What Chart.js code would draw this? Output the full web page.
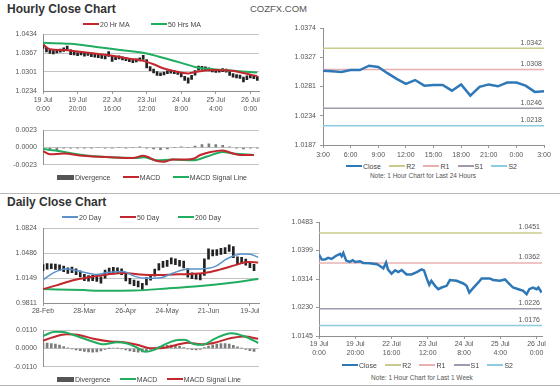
<!DOCTYPE html>
<html>
<head>
<meta charset="utf-8">
<title>COZFX close charts</title>
<script src="https://cdn.jsdelivr.net/npm/chart.js@4.4.1/dist/chart.umd.min.js"></script>
<style>
  body { margin: 0; background: #fff; font-family: 'Liberation Sans', Arial, sans-serif; }
  #page { position: relative; width: 560px; height: 386px; overflow: hidden; }
  canvas, .txt, .legend, .rule { position: absolute; }
  .txt { line-height: 1; white-space: nowrap; }
  .head { font-size: 12px; font-weight: bold; color: #333; }
  .brand { font-size: 9.5px; color: #555; }
  .note { font-size: 6.5px; color: #555; text-align: center; width: 200px; }
  .rule { left: 0; width: 560px; height: 1px; background: #b8b8b8; }
  .legend { display: flex; align-items: center; justify-content: space-between; font-size: 7px; color: #444; white-space: nowrap; height: 10px; }
  .legend span { display: flex; align-items: center; }
  .legend i { display: inline-block; margin-right: 1px; }
</style>
</head>
<body>
<div id="page">
  <div class="txt head" style="left:7px;top:3px">Hourly Close Chart</div>
  <div class="txt brand" style="left:250px;top:4px">COZFX.COM</div>
  <div class="rule" style="top:193px"></div>
  <div class="txt head" style="left:7px;top:196px">Daily Close Chart</div>
  <div class="rule" style="top:385px"></div>

  <canvas id="hourPrice" width="270" height="91" style="left:0;top:24px"></canvas>
  <canvas id="hourMacd" width="270" height="55" style="left:0;top:120px"></canvas>
  <canvas id="dayPrice" width="270" height="98" style="left:0;top:218px"></canvas>
  <canvas id="dayMacd" width="270" height="57" style="left:0;top:320px"></canvas>
  <canvas id="last24" width="285" height="140" style="left:272px;top:20px"></canvas>
  <canvas id="lastWeek" width="285" height="143" style="left:272px;top:215px"></canvas>

  <div class="txt note" style="left:323px;top:173px">Note: 1 Hour Chart for Last 24 Hours</div>
  <div class="txt note" style="left:322px;top:375px">Note: 1 Hour Chart for Last 1 Week</div>
</div>

<script>
// ---------- hourly close chart (x = hours since 19 Jul 0:00, weekend skipped) ----------
const hourTicks = [0, 20, 40, 60, 80, 100, 120];
const hourTickLabels = [['19 Jul', '0:00'], ['19 Jul', '20:00'], ['22 Jul', '16:00'], ['23 Jul', '12:00'],
                        ['24 Jul', '8:00'], ['25 Jul', '4:00'], ['26 Jul', '0:00']];
const hourPriceTicks = [1.0234, 1.0301, 1.0367, 1.0434];

// candle ranges, one every 2 hours
const hourLow = [1.0384, 1.0372, 1.0366, 1.0365, 1.0368, 1.0371, 1.0373, 1.0378, 1.0362, 1.0361,
                 1.0358, 1.0361, 1.0357, 1.0359, 1.0355, 1.0353, 1.0351, 1.0349, 1.0347, 1.0356,
                 1.0338, 1.0344, 1.0347, 1.0343, 1.0341, 1.0337, 1.0334, 1.0336, 1.0340, 1.0345,
                 1.0315, 1.0306, 1.0298, 1.0289, 1.0288, 1.0291, 1.0295, 1.0297, 1.0295, 1.0292,
                 1.0284, 1.0271, 1.0262, 1.0275, 1.0290, 1.0307, 1.0310, 1.0308, 1.0305, 1.0301,
                 1.0299, 1.0300, 1.0302, 1.0300, 1.0289, 1.0283, 1.0280, 1.0278, 1.0266, 1.0274,
                 1.0280, 1.0277, 1.0271];
const hourHigh = [1.0400, 1.0388, 1.0378, 1.0376, 1.0379, 1.0382, 1.0386, 1.0392, 1.0379, 1.0371,
                  1.0369, 1.0371, 1.0368, 1.0369, 1.0366, 1.0364, 1.0362, 1.0360, 1.0358, 1.0373,
                  1.0356, 1.0355, 1.0358, 1.0354, 1.0352, 1.0349, 1.0345, 1.0347, 1.0351, 1.0360,
                  1.0345, 1.0320, 1.0311, 1.0302, 1.0298, 1.0301, 1.0305, 1.0308, 1.0306, 1.0303,
                  1.0297, 1.0286, 1.0280, 1.0289, 1.0306, 1.0322, 1.0321, 1.0319, 1.0316, 1.0311,
                  1.0309, 1.0310, 1.0313, 1.0311, 1.0303, 1.0295, 1.0292, 1.0290, 1.0283, 1.0287,
                  1.0292, 1.0289, 1.0285];

const ma20Hours = [0, 4, 12, 20, 30, 40, 50, 58, 64, 70, 76, 84, 90, 100, 108, 114, 124];
const ma20Values = [1.0398, 1.0381, 1.0378, 1.0373, 1.0366, 1.0358, 1.0348, 1.0340, 1.0328, 1.0313,
                    1.0304, 1.0296, 1.0303, 1.0308, 1.0306, 1.0300, 1.0286];
const ma50Hours = [0, 12, 16, 30, 50, 60, 70, 80, 90, 100, 110, 124];
const ma50Values = [1.0404, 1.0401, 1.0400, 1.0390, 1.0375, 1.0366, 1.0350, 1.0333, 1.0316, 1.0310, 1.0305, 1.0299];

const hourMacdTicks = [-0.0023, 0, 0.0023];
const hourMacdHours = [0, 4, 12, 23, 39, 52, 58, 66, 70, 75, 83, 87, 91, 97, 104, 110, 114, 122];
const hourMacd = [-0.0005, -0.0009, -0.0008, -0.0011, -0.0013, -0.0014, -0.0011, -0.0018, -0.0019, -0.0016,
                  -0.0016, -0.0015, -0.0010, -0.0006, -0.0004, -0.0008, -0.0010, -0.0010];
const hourSignalHours = [0, 10, 23, 39, 54, 58, 66, 75, 87, 95, 104, 110, 122];
const hourSignal = [-0.0002, -0.0005, -0.0010, -0.0013, -0.0014, -0.0013, -0.0017, -0.0016, -0.0017, -0.0012,
                    -0.0006, -0.0008, -0.0010];
// divergence, one every 4 hours
const hourDivergence = [-0.0002, -0.0004, -0.0003, -0.0001, -0.0001, -0.0001, -0.0001, -0.0001, 0.0000, -0.0001,
                        -0.0001, 0.0000, -0.0001, 0.0000, 0.0001, -0.0001, -0.0002, -0.0003, -0.0002, 0.0000,
                        0.0001, 0.0000, 0.0002, 0.0004, 0.0005, 0.0004, 0.0003, 0.0001, -0.0001, -0.0002,
                        -0.0001, -0.0001];

// ---------- daily close chart (x = trading days since 28-Feb) ----------
const dayTicks = [0, 20, 40, 60, 80, 100];
const dayTickLabels = ['28-Feb', '28-Mar', '26-Apr', '24-May', '21-Jun', '19-Jul'];
const dayPriceTicks = [0.9811, 1.0149, 1.0486, 1.0824];

// candle ranges, one every 2 days
const dayLow = [1.0248, 1.0270, 1.0276, 1.0265, 1.0252, 1.0236, 1.0210, 1.0222, 1.0196, 1.0165,
                1.0112, 1.0108, 1.0114, 1.0104, 1.0080, 1.0146, 1.0206, 1.0218, 1.0212, 1.0195,
                1.0110, 1.0068, 1.0046, 1.0030, 0.9994, 1.0055, 1.0120, 1.0175, 1.0255, 1.0292,
                1.0306, 1.0340, 1.0330, 1.0310, 1.0285, 1.0162, 1.0142, 1.0134, 1.0122, 1.0185,
                1.0405, 1.0450, 1.0455, 1.0470, 1.0480, 1.0510, 1.0425, 1.0330, 1.0345, 1.0325,
                1.0290, 1.0250];
const dayHigh = [1.0333, 1.0345, 1.0343, 1.0338, 1.0327, 1.0310, 1.0286, 1.0297, 1.0273, 1.0246,
                 1.0200, 1.0184, 1.0187, 1.0178, 1.0166, 1.0256, 1.0285, 1.0294, 1.0287, 1.0274,
                 1.0206, 1.0146, 1.0123, 1.0108, 1.0076, 1.0156, 1.0200, 1.0270, 1.0346, 1.0375,
                 1.0388, 1.0424, 1.0410, 1.0390, 1.0380, 1.0276, 1.0220, 1.0210, 1.0206, 1.0410,
                 1.0545, 1.0530, 1.0536, 1.0550, 1.0563, 1.0600, 1.0576, 1.0436, 1.0430, 1.0406,
                 1.0370, 1.0336];

const ma20DayDays = [0, 5, 11, 18, 26, 31, 39, 44, 50, 57, 63, 70, 76, 83, 89, 96, 100, 104];
const ma20DayValues = [1.0125, 1.0218, 1.0270, 1.0239, 1.0197, 1.0225, 1.0239, 1.0175, 1.0145, 1.0154,
                       1.0218, 1.0273, 1.0273, 1.0303, 1.0410, 1.0474, 1.0470, 1.0431];
const ma50DayDays = [0, 6.5, 14.6, 22.8, 31, 39, 47, 55, 63, 71, 78, 85, 93, 99, 104];
const ma50DayValues = [0.9999, 1.0050, 1.0120, 1.0162, 1.0197, 1.0218, 1.0197, 1.0190, 1.0197, 1.0205,
                       1.0218, 1.0260, 1.0324, 1.0367, 1.0359];
const ma200DayDays = [0, 19.5, 27.6, 44, 60, 76, 89, 104];
const ma200DayValues = [0.9999, 0.9986, 0.9977, 0.9980, 1.0008, 1.0042, 1.0080, 1.0136];

const dayMacdTicks = [-0.0110, 0, 0.0110];
const dayMacdDays = [0, 5.7, 9.8, 16.3, 22.8, 29.3, 35.8, 40.7, 45.5, 49.6, 53.7, 58.5, 63.4, 68.3, 73.2,
                     77.2, 82.9, 91, 97.6, 104];
const dayMacd = [0.0075, 0.0101, 0.0099, 0.0075, 0.0047, 0.0025, 0.0038, 0.0030, 0.0005, -0.0020,
                 -0.0008, 0.0022, 0.0047, 0.0052, 0.0025, 0.0022, 0.0058, 0.0092, 0.0072, 0.0033];
const daySignalDays = [0, 4.9, 11.4, 17.9, 24.4, 32.5, 39, 45.5, 52, 56.9, 63.4, 69.9, 76.4, 82.9, 91, 97.6, 104];
const daySignal = [0.0047, 0.0068, 0.0085, 0.0080, 0.0058, 0.0042, 0.0038, 0.0022, 0.0002, 0.0002,
                   0.0018, 0.0035, 0.0025, 0.0035, 0.0063, 0.0072, 0.0058];
// divergence, one every 2 days
const dayDivergence = [0.0033, 0.0032, 0.0030, 0.0026, 0.0020, 0.0012, 0.0004, -0.0002, -0.0008, -0.0013,
                       -0.0018, -0.0021, -0.0022, -0.0020, -0.0014, -0.0006, 0.0001, 0.0003, 0.0002, -0.0002,
                       -0.0008, -0.0014, -0.0019, -0.0022, -0.0021, -0.0014, -0.0006, 0.0004, 0.0011, 0.0016,
                       0.0019, 0.0020, 0.0018, 0.0013, 0.0006, -0.0002, -0.0007, -0.0008, -0.0005, 0.0006,
                       0.0015, 0.0022, 0.0027, 0.0029, 0.0029, 0.0026, 0.0019, 0.0010, 0.0002, -0.0006,
                       -0.0013, -0.0018];

// ---------- last 24 hours (x = hours since 3:00) ----------
const last24Ticks = [0, 3, 6, 9, 12, 15, 18, 21, 24];
const last24TickLabels = ['3:00', '6:00', '9:00', '12:00', '15:00', '18:00', '21:00', '0:00', '3:00'];
const last24PriceTicks = [1.0187, 1.0234, 1.0281, 1.0327, 1.0374];
const last24Close = [1.0306, 1.0305, 1.0304, 1.0307, 1.0307, 1.0314, 1.0312, 1.0302, 1.0293, 1.0285,
                     1.0291, 1.0282, 1.0283, 1.0283, 1.0274, 1.0284, 1.0266, 1.0280, 1.0284, 1.0281,
                     1.0287, 1.0287, 1.0282, 1.0272, 1.0273];
const last24Levels = { R2: 1.0342, R1: 1.0308, S1: 1.0246, S2: 1.0218 };

// ---------- last week (same hour axis as the hourly chart) ----------
const weekPriceTicks = [1.0145, 1.0230, 1.0314, 1.0399, 1.0483];
const weekHours = [0, 1.5, 3.3, 5, 7, 9, 11.6, 12.5, 13.4, 15, 17, 18.6, 20, 22.6, 24.4, 28, 32, 33.6, 35.5, 37,
                   38, 40, 42, 43.8, 45.6, 48.3, 51, 53.9, 56.6, 57.9, 59.4, 60.8, 62, 64, 65.8, 67.6, 70.4, 72.2,
                   75.9, 79.6, 81.4, 82.9, 85, 87.9, 89.7, 94.3, 96, 99.8, 102.6, 104.4, 107, 110, 112.7, 114.5,
                   116, 118, 120, 121, 122.8];
const weekClose = [1.0387, 1.0372, 1.0372, 1.0377, 1.0374, 1.0382, 1.0389, 1.0382, 1.0392, 1.0369,
                   1.0365, 1.0370, 1.0365, 1.0367, 1.0362, 1.0361, 1.0358, 1.0353, 1.0346, 1.0363,
                   1.0343, 1.0330, 1.0340, 1.0335, 1.0341, 1.0328, 1.0328, 1.0335, 1.0343, 1.0340,
                   1.0316, 1.0297, 1.0309, 1.0294, 1.0284, 1.0289, 1.0294, 1.0311, 1.0309, 1.0301,
                   1.0294, 1.0274, 1.0287, 1.0304, 1.0316, 1.0316, 1.0311, 1.0309, 1.0313, 1.0303,
                   1.0289, 1.0284, 1.0279, 1.0269, 1.0284, 1.0289, 1.0284, 1.0289, 1.0274];
const weekLevels = { R2: 1.0451, R1: 1.0362, S1: 1.0226, S2: 1.0176 };

// ---------- styling ----------
const FONT = "'Liberation Sans', Arial, sans-serif";
Chart.defaults.font.family = FONT;
Chart.defaults.font.size = 7;
Chart.defaults.color = '#555';

const RED = '#c1272d', GREEN = '#21ad5f', BLUE = '#5a93cc', CLOSE = '#2f78b8';
const LEVEL_COLORS = { R2: '#c8cb8c', R1: '#e8b0b0', S1: '#a199ad', S2: '#8ccbe0' };
const page = document.getElementById('page');

function yScale(ticks, width, pad, gridOnArea) {
  return {
    min: ticks[0], max: ticks[ticks.length - 1],
    afterBuildTicks: s => { s.ticks = ticks.map(v => ({ value: v })); },
    afterFit: s => { s.width = width; },
    ticks: { padding: pad, callback: v => v.toFixed(4) },
    grid: gridOnArea ? { color: '#c4c4c4', drawTicks: false }
                     : { drawOnChartArea: false, tickLength: 3, color: '#9a9a9a' },
    border: { color: '#8f8f8f' }
  };
}

function xScale(max, ticks, labels, height, pad) {
  return {
    type: 'linear', min: 0, max, offset: false,
    afterBuildTicks: s => { s.ticks = ticks.map(v => ({ value: v })); },
    afterFit: s => { s.height = height; },
    ticks: { autoSkip: false, maxRotation: 0, padding: pad, callback: (v, i) => labels[i] },
    grid: { drawOnChartArea: false, offset: false, tickLength: 3, color: '#9a9a9a' },
    border: { color: '#8f8f8f' }
  };
}

function line(label, xs, ys, color, width, smooth) {
  return {
    type: 'line', label, data: xs.map((x, i) => ({ x, y: ys[i] })),
    borderColor: color, borderWidth: width, pointRadius: 0,
    cubicInterpolationMode: smooth ? 'monotone' : 'default', keyWidth: width, order: 1
  };
}

function ranges(lows, highs, step) {
  return {
    type: 'bar', label: '', data: lows.map((lo, i) => ({ x: i * step, y: [lo, highs[i]] })),
    backgroundColor: '#222', barThickness: 2, order: 5
  };
}

function divergence(values, step) {
  return {
    type: 'bar', label: 'Divergence', data: values.map((v, i) => ({ x: i * step, y: v })),
    backgroundColor: '#7c7c7c', barThickness: 2, keyColor: '#555', keyWidth: 5, order: 5
  };
}

function levels(obj, max) {
  return Object.keys(obj).map(k => ({
    type: 'line', label: k, data: [{ x: 0, y: obj[k] }, { x: max, y: obj[k] }],
    borderColor: LEVEL_COLORS[k], borderWidth: 1.5, pointRadius: 0, keyWidth: 1.5, isLevel: true, order: 2
  }));
}

// value labels sitting on top of the R/S level lines
const levelLabels = {
  id: 'levelLabels',
  afterDatasetsDraw(chart) {
    const { ctx, chartArea, scales } = chart;
    ctx.save();
    ctx.font = '7px ' + FONT;
    ctx.fillStyle = '#555';
    ctx.textAlign = 'right';
    ctx.textBaseline = 'bottom';
    chart.data.datasets.filter(d => d.isLevel).forEach(d => {
      const v = d.data[0].y;
      ctx.fillText(v.toFixed(4), chartArea.right - 2, scales.y.getPixelForValue(v) - 2);
    });
    ctx.restore();
  }
};

function makeChart(id, datasets, scales, padding, extraPlugins) {
  return new Chart(document.getElementById(id), {
    type: 'line',
    data: { datasets },
    options: {
      responsive: false, animation: false, events: [],
      layout: { padding },
      plugins: { legend: { display: false }, tooltip: { enabled: false } },
      scales
    },
    plugins: extraPlugins || []
  });
}

// html legend built from the chart's own datasets
function legend(chart, left, right, centerY) {
  const box = document.createElement('div');
  box.className = 'legend';
  box.style.left = left + 'px';
  box.style.width = (right - left) + 'px';
  box.style.top = (centerY - 5) + 'px';
  chart.data.datasets.filter(d => d.label).forEach(d => {
    const item = document.createElement('span');
    const key = document.createElement('i');
    key.style.width = (d.keyWidth >= 5 ? 17 : 16) + 'px';
    key.style.height = d.keyWidth + 'px';
    key.style.background = d.keyColor || d.borderColor;
    item.append(key, d.label);
    box.append(item);
  });
  page.append(box);
}

// ---------- build ----------
const hourPrice = makeChart('hourPrice', [
  ranges(hourLow, hourHigh, 2),
  line('20 Hr MA', ma20Hours, ma20Values, RED, 2, true),
  line('50 Hrs MA', ma50Hours, ma50Values, GREEN, 2, true)
], {
  x: xScale(125, hourTicks, hourTickLabels, 22, 2),
  y: yScale(hourPriceTicks, 43, 6, true)
}, { top: 6, right: 11, bottom: 2, left: 0 });
legend(hourPrice, 83, 201, 24);

const hourMacdChart = makeChart('hourMacd', [
  divergence(hourDivergence, 4),
  line('MACD', hourMacdHours, hourMacd, RED, 2, true),
  line('MACD Signal Line', hourSignalHours, hourSignal, GREEN, 2, true)
], {
  x: Object.assign(xScale(125, hourTicks, hourTickLabels, 0, 0), { display: false }),
  y: yScale(hourMacdTicks, 43, 6, true)
}, { top: 7, right: 11, bottom: 6, left: 0 });
legend(hourMacdChart, 57, 247, 177);

const dayPrice = makeChart('dayPrice', [
  ranges(dayLow, dayHigh, 2),
  line('20 Day', ma20DayDays, ma20DayValues, BLUE, 1.5, true),
  line('50 Day', ma50DayDays, ma50DayValues, RED, 2, true),
  line('200 Day', ma200DayDays, ma200DayValues, GREEN, 2, true)
], {
  x: xScale(104.4, dayTicks, dayTickLabels, 13, 1),
  y: yScale(dayPriceTicks, 43, 6, true)
}, { top: 6, right: 11, bottom: 0, left: 0 });
legend(dayPrice, 62, 221, 217);

const dayMacdChart = makeChart('dayMacd', [
  divergence(dayDivergence, 2),
  line('MACD', dayMacdDays, dayMacd, GREEN, 2, true),
  line('MACD Signal Line', daySignalDays, daySignal, RED, 2, true)
], {
  x: Object.assign(xScale(104.4, dayTicks, dayTickLabels, 0, 0), { display: false }),
  y: yScale(dayMacdTicks, 43, 6, true)
}, { top: 6, right: 11, bottom: 6, left: 0 });
legend(dayMacdChart, 57, 241, 379);

const last24 = makeChart('last24', [
  Object.assign(line('Close', last24Close.map((v, i) => i), last24Close, CLOSE, 2.5, false), { order: 0 }),
  ...levels(last24Levels, 24)
], {
  x: xScale(24, last24Ticks, last24TickLabels, 15, 3),
  y: yScale(last24PriceTicks, 51, 4, false)
}, { top: 6, right: 13, bottom: 0, left: 0 }, [levelLabels]);
legend(last24, 346, 517, 166);

const lastWeek = makeChart('lastWeek', [
  Object.assign(line('Close', weekHours, weekClose, CLOSE, 2.5, false), { order: 0 }),
  ...levels(weekLevels, 123)
], {
  x: xScale(123, hourTicks, hourTickLabels, 22, 1),
  y: yScale(weekPriceTicks, 47, 3, false)
}, { top: 6, right: 15, bottom: 0, left: 0 }, [levelLabels]);
legend(lastWeek, 342, 513, 365);
</script>
</body>
</html>
